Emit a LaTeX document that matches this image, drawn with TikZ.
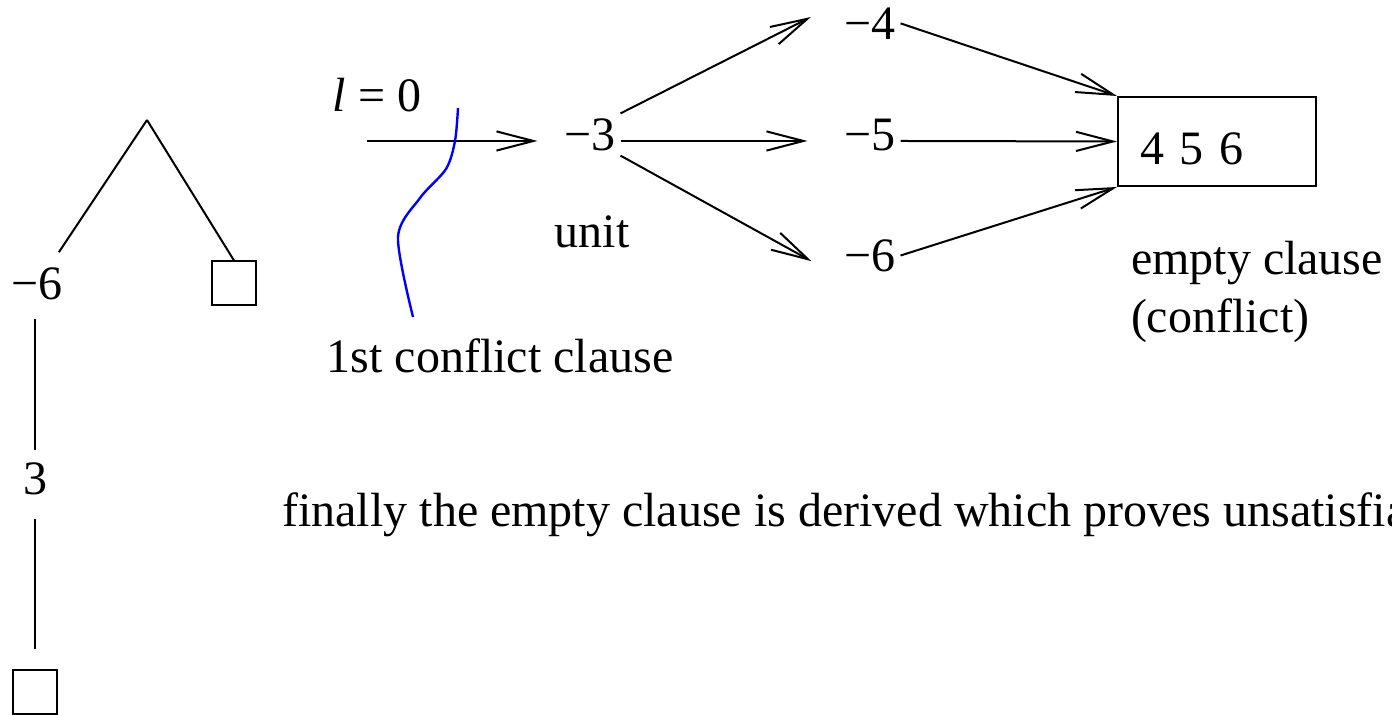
\documentclass[tikz,border=0pt]{standalone}
\usepackage{fontspec}
\setmainfont{Liberation Serif}
\usepackage{tikz}
\usetikzlibrary{arrows.meta,positioning}

\begin{document}
\begin{tikzpicture}[x=25pt,y=25pt,line width=0.5pt,
    font=\fontsize{12}{14.5}\selectfont,
    lit/.style={inner sep=1pt},
    arr/.style={-{Straight Barb[length=9.25pt,width=4.8pt]}},
    leaf/.style={draw,minimum size=11pt,inner sep=0pt}]
    \useasboundingbox (0,0) rectangle (13.92,7.15);

    % search tree
    \coordinate (top) at (1.47,5.95);
    \node[lit,anchor=base] (t6) at (0.37,4.15) {−6};
    \node[leaf] (leaf1) at (2.34,4.315) {};
    \node[lit,anchor=base] (t3) at (0.35,2.20) {3};
    \node[leaf] (leaf2) at (0.35,0.23) {};
    \draw[shorten >=3.3pt] (top) -- ([xshift=-4pt]t6.north east);
    \draw (top) -- (leaf1.north);
    \draw[shorten <=3.5pt,shorten >=2pt] (t6.south -| t3) -- (t3.north);
    \draw[shorten <=4.75pt,shorten >=5pt] (t3.south) -- (leaf2.north);

    % implication graph
    \node[lit,anchor=base] (lev) at (3.77,6.03) {{\itshape l} = 0};
    \coordinate (in) at (3.67,5.74);
    \node[lit,anchor=mid] (m3) at (5.90,5.74) {−3};
    \node[lit,anchor=mid] (m4) at (8.70,6.85) {−4};
    \node[lit,anchor=mid] (m5) at (8.70,5.74) {−5};
    \node[lit,anchor=mid] (m6) at (8.70,4.53) {−6};
    \node[draw,minimum width=49.5pt,minimum height=22.25pt,text width=38.5pt,
        inner xsep=5.5pt,text height=11.7pt,align=left] (cls) at (12.17,5.735) {4 5 6};

    \draw[arr,shorten >=5.5pt] (in) -- (m3.mid west);
    \draw[arr,shorten >=8pt] (m3.north east) -- (m4.north west);
    \draw[arr,shorten >=8pt] (m3.mid east) -- (m5.mid west);
    \draw[arr,shorten >=8pt] (m3.south east) -- (m6.south west);
    \draw[arr] (m4.east) -- (cls.north west);
    \draw[arr] (m5.mid east) -- (cls.west);
    \draw[arr] (m6.east) -- (cls.south west);

    % labels
    \node[anchor=base] (unit) at (5.92,4.67) {unit};
    \node[anchor=north west,inner sep=0pt,align=left] (empt) at (11.30,4.75) {empty clause\\(conflict)};
    \node[anchor=base] (ccl) at (5.00,3.42) {1st conflict clause};
    \node[anchor=base west] (fin) at (2.68,1.88) {finally the empty clause is derived which proves unsatisfiability};

    % conflict clause cut
    \draw[blue,line width=0.6pt] plot[smooth] coordinates {(4.58,6.07) (4.55,5.74) (4.46,5.46) (4.20,5.17) (3.98,4.78) (4.13,3.98)};
\end{tikzpicture}
\end{document}
